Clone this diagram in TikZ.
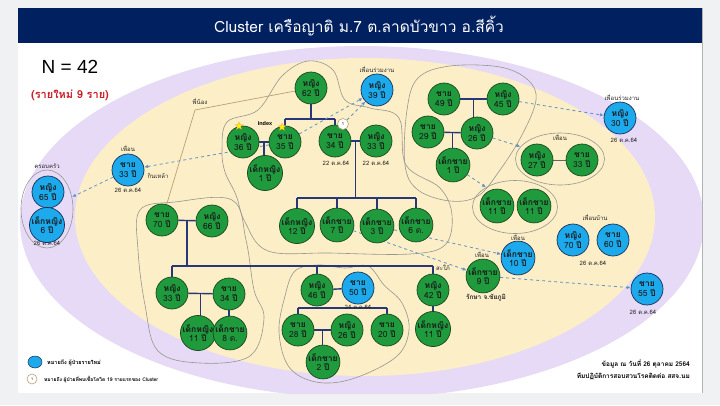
\documentclass[tikz,border=0pt]{standalone}
\usepackage{fontspec}
\setmainfont{Loma}[Script=Thai]
\newfontfamily\arialf{Liberation Sans}
\usetikzlibrary{shapes.geometric,arrows.meta,calc}
\definecolor{bggray}{RGB}{240,241,243}
\definecolor{navybar}{RGB}{0,32,96}
\definecolor{lav}{RGB}{230,218,247}
\definecolor{cream}{RGB}{252,238,198}
\definecolor{gfill}{RGB}{31,155,62}
\definecolor{gdraw}{RGB}{25,70,30}
\definecolor{bfill}{RGB}{28,170,236}
\definecolor{bdraw}{RGB}{25,45,85}
\definecolor{treec}{RGB}{40,55,120}
\definecolor{dashc}{RGB}{100,145,200}
\definecolor{outl}{RGB}{150,150,145}
\definecolor{tanc}{RGB}{185,160,120}
\definecolor{redt}{RGB}{200,30,40}
\pgfdeclarelayer{bg}
\pgfdeclarelayer{edges}
\pgfsetlayers{bg,edges,main}
\newcommand\agey[1]{#1 \textbf{ปี}}
\begin{document}
\begin{tikzpicture}[x=1pt,y=-1pt,
  person/.style={circle, minimum size=32pt, inner sep=0pt, align=center, font=\fontsize{8.5}{9.5}\selectfont, text=black!90, line width=0.7pt},
  gp/.style={person, fill=gfill, draw=gdraw},
  bp/.style={person, fill=bfill, draw=bdraw},
  treeline/.style={draw=treec, line width=1.4pt},
  contactarrow/.style={draw=dashc, dashed, line width=0.8pt, -{Latex[length=4pt,width=3.5pt]}},
  lbl/.style={font=\fontsize{6}{6.5}\selectfont, text=black!85, inner sep=0.5pt},
  clusterline/.style={draw=outl, line width=0.6pt},
  grpell/.style={ellipse, draw=outl, line width=0.6pt, inner sep=0pt},
  starmark/.style={star, star points=5, star point ratio=2.3, fill=yellow, draw=orange!70, line width=0.3pt, minimum size=8pt, inner sep=0pt}
]
\useasboundingbox (0,0) rectangle (720,405);
\begin{pgfonlayer}{bg}
\fill[bggray] (0,0) rectangle (720,405);
\fill[white] (18,8) rectangle (702,393);
\begin{scope}
\clip (18,43) rectangle (702,393);
\fill[lav] (362,222) ellipse [x radius=342pt, y radius=176pt];
\fill[cream] (365,217) ellipse [x radius=290pt, y radius=159pt];
\end{scope}
\fill[navybar] (18,8) rectangle (702,43);
\draw[gray!60] (702,8) -- (702,393);
% cluster outlines
\draw[clusterline] plot[smooth cycle, tension=0.6] coordinates {(222,150) (227,122) (258,110) (282,76) (308,61) (333,70) (345,100) (370,108) (399,118) (406,165) (440,188) (452,215) (445,245) (410,254) (330,253) (268,251) (245,222) (236,195) (225,172)};
\draw[clusterline] plot[smooth cycle, tension=0.6] coordinates {(418,78) (450,66) (500,67) (528,80) (536,100) (522,135) (500,170) (478,196) (450,201) (418,190) (405,165) (407,110)};
\draw[clusterline] plot[smooth cycle, tension=0.6] coordinates {(140,210) (175,202) (232,200) (246,240) (254,290) (264,318) (250,356) (200,363) (158,351) (145,305) (138,250)};
\draw[clusterline] plot[smooth cycle, tension=0.6] coordinates {(295,271) (318,265) (345,268) (368,266) (384,285) (402,303) (409,330) (396,357) (352,379) (316,382) (289,367) (279,332) (285,296)};
\end{pgfonlayer}

% title and headings
\node[font=\fontsize{15.5}{17}\selectfont, text=white] (title) at (359,26) {Cluster เครือญาติ ม.7 ต.ลาดบัวขาว อ.สีคิ้ว};
\node[font=\arialf\fontsize{19}{21}\selectfont] (ncount) at (70,67) {N = 42};
\node[font=\fontsize{11}{13}\selectfont\bfseries, text=redt] (newcount) at (70,95) {(รายใหม่ 9 ราย)};

% group ellipses
\node[grpell, minimum width=52pt, minimum height=78pt] (fam) at (47,209) {};
\node[grpell, minimum width=89pt, minimum height=52pt] (frE) at (560,159) {};
\node[grpell, minimum width=85pt, minimum height=53pt] (boyE) at (515,207) {};

% people
\node[gp] (W62) at (311,88) {\textbf{หญิง}\\\agey{62}};
\node[gp] (W36) at (243,142) {\textbf{หญิง}\\\agey{36}};
\node[gp] (M35) at (285,142) {\textbf{ชาย}\\\agey{35}};
\node[gp] (G1) at (265,173) {\textbf{เด็กหญิง}\\\agey{1}};
\node[gp] (M34) at (335,141) {\textbf{ชาย}\\\agey{34}};
\node[gp] (W33) at (376,141) {\textbf{หญิง}\\\agey{33}};
\node[bp] (W39) at (377,90) {\textbf{หญิง}\\\agey{39}};
\node[bp] (M33L) at (128,170) {\textbf{ชาย}\\\agey{33}};
\node[bp] (W65) at (48,192) {\textbf{หญิง}\\\agey{65}};
\node[bp] (G6) at (47,225) {\textbf{เด็กหญิง}\\\agey{6}};
\node[bp] (W30) at (620,118) {\textbf{หญิง}\\\agey{30}};
\node[gp] (M49) at (444,99) {\textbf{ชาย}\\\agey{49}};
\node[gp] (W45) at (503,99) {\textbf{หญิง}\\\agey{45}};
\node[gp] (M29) at (428,132) {\textbf{ชาย}\\\agey{29}};
\node[gp] (W26) at (477,133) {\textbf{หญิง}\\\agey{26}};
\node[gp] (B1) at (453,165) {\textbf{เด็กชาย}\\\agey{1}};
\node[gp] (W27) at (537,160) {\textbf{หญิง}\\\agey{27}};
\node[gp] (M33b) at (582,160) {\textbf{ชาย}\\\agey{33}};
\node[gp] (B11a) at (497,206) {\textbf{เด็กชาย}\\\agey{11}};
\node[gp] (B11b) at (534,206) {\textbf{เด็กชาย}\\\agey{11}};
\node[bp] (W70) at (573,240) {\textbf{หญิง}\\\agey{70}};
\node[bp] (M60) at (613,240) {\textbf{ชาย}\\\agey{60}};
\node[bp] (B10) at (518,258) {\textbf{เด็กชาย}\\\agey{10}};
\node[gp] (B9) at (483,276) {\textbf{เด็กชาย}\\\agey{9}};
\node[bp] (M55) at (647,289) {\textbf{ชาย}\\\agey{55}};
\node[gp] (G12) at (297,226) {\textbf{เด็กหญิง}\\\agey{12}};
\node[gp] (B7) at (337,225) {\textbf{เด็กชาย}\\\agey{7}};
\node[gp] (B3) at (377,226) {\textbf{เด็กชาย}\\\agey{3}};
\node[gp] (B6m) at (416,225) {\textbf{เด็กชาย}\\6 ด.};
\node[gp] (M70) at (162,220) {\textbf{ชาย}\\\agey{70}};
\node[gp] (W66) at (212,221) {\textbf{หญิง}\\\agey{66}};
\node[gp] (W33b) at (172,293) {\textbf{หญิง}\\\agey{33}};
\node[gp] (M34b) at (229,294) {\textbf{ชาย}\\\agey{34}};
\node[gp] (G11) at (198,333) {\textbf{เด็กหญิง}\\\agey{11}};
\node[gp] (B8m) at (230,333) {\textbf{เด็กชาย}\\8 ด.};
\node[gp] (W46) at (317,290) {\textbf{หญิง}\\\agey{46}};
\node[bp] (M50) at (358,288) {\textbf{ชาย}\\\agey{50}};
\node[gp] (M28) at (298,330) {\textbf{ชาย}\\\agey{28}};
\node[gp] (W26b) at (347,330) {\textbf{หญิง}\\\agey{26}};
\node[gp] (M20) at (387,330) {\textbf{ชาย}\\\agey{20}};
\node[gp] (B2) at (323,362) {\textbf{เด็กชาย}\\\agey{2}};
\node[gp] (W42) at (433,290) {\textbf{หญิง}\\\agey{42}};
\node[gp] (G11b) at (433,329) {\textbf{เด็กหญิง}\\\agey{11}};

% markers
\node[starmark] (st1) at (239,126) {};
\node[starmark] (st2) at (282,127) {};
\node[circle, draw=tanc, fill=white, line width=0.6pt, minimum size=11pt, inner sep=0pt, font=\fontsize{4}{4}\selectfont] (one) at (343,124) {1};
\node[font=\arialf\fontsize{5.5}{6}\selectfont\bfseries, inner sep=0.5pt] (idx) at (265,124) {Index};

% labels
\node[lbl] (lb1) at (377,69) {เพื่อนร่วมงาน};
\node[lbl] (lb2) at (622,97) {เพื่อนร่วมงาน};
\node[lbl] (lb3) at (128,148) {เพื่อน};
\node[lbl] (lb4) at (560,137) {เพื่อน};
\node[lbl] (lb5) at (518,237) {เพื่อน};
\node[lbl] (lb6) at (482,254) {เพื่อน};
\node[lbl] (lb7) at (47,166) {ครอบครัว};
\node[lbl] (lb8) at (158,176) {กินเหล้า};
\node[lbl] (lb9) at (595,217) {เพื่อนบ้าน};
\node[lbl] (lb10) at (443,268) {สะใภ้};
\node[lbl] (lb11) at (200,101) {พี่น้อง};
\node[lbl, font=\fontsize{6.5}{7}\selectfont\bfseries] (lb12) at (486,298) {รักษา จ.ชัยภูมิ};
\node[lbl] (d1) at (128,190) {26 ต.ค.64};
\node[lbl] (d2) at (47,243) {26 ต.ค.64};
\node[lbl] (d3) at (624,140) {26 ต.ค.64};
\node[lbl] (d4) at (593,263) {26 ต.ค.64};
\node[lbl] (d5) at (643,312) {26 ต.ค.64};
\node[lbl] (d6) at (336,163) {22 ต.ค.64};
\node[lbl] (d7) at (376,163) {22 ต.ค.64};
\node[lbl] (d8) at (358,307) {24 ต.ค.64};

% legend and source
\node[ellipse, fill=bfill, draw=bdraw, line width=0.5pt, minimum width=14pt, minimum height=12pt, inner sep=0pt] (legB) at (35,362) {};
\node[anchor=west, font=\fontsize{5.5}{6}\selectfont\bfseries, inner sep=0pt] (legBt) at (47,363) {หมายถึง ผู้ป่วยรายใหม่};
\node[circle, draw=tanc, fill=white, line width=0.6pt, minimum size=10pt, inner sep=0pt, font=\fontsize{3.5}{4}\selectfont] (legO) at (32,379) {1};
\node[anchor=west, font=\fontsize{5}{6}\selectfont\bfseries, inner sep=0pt] (legOt) at (44,379) {หมายถึง ผู้ป่วยที่พบเชื้อโควิด 19 รายแรกของ Cluster};
\node[anchor=east, font=\fontsize{6.5}{7}\selectfont\bfseries, inner sep=0pt] (src1) at (690,364) {ข้อมูล ณ วันที่ 26 ตุลาคม 2564};
\node[anchor=east, font=\fontsize{6.5}{7}\selectfont\bfseries, inner sep=0pt] (src2) at (690,376) {ทีมปฏิบัติการสอบสวนโรคติดต่อ สสจ.นม};

\begin{pgfonlayer}{edges}
% sibling line
\coordinate (sib) at (195,110);
\draw[tanc, line width=0.7pt] (W62) -- (sib) -- (M70);
% top family
\coordinate (j62) at (311,119);
\draw[treeline] (W62.center) -- (j62);
\draw[treeline] (M35.center |- j62) -- (M34.center |- j62);
\draw[treeline] (M35.center |- j62) -- (M35.center);
\draw[treeline] (M34.center |- j62) -- (M34.center);
\draw[treeline] (W36) -- (M35);
\coordinate (c1) at ($(W36.center)!0.5!(M35.center)$);
\draw[treeline] (c1) -- (c1 |- G1.center);
\draw[treeline] (M34) -- (W33);
\coordinate (c2) at ($(M34.center)!0.5!(W33.center)$);
\coordinate (barA) at (355,198);
\draw[treeline] (c2) -- (c2 |- barA);
\draw[treeline] (G12.center |- barA) -- (B6m.center |- barA);
\foreach \k in {G12,B7,B3,B6m} \draw[treeline] (\k.center |- barA) -- (\k.center);
% left family
\draw[treeline] (M70) -- (W66);
\coordinate (c3) at ($(M70.center)!0.5!(W66.center)$);
\coordinate (barB) at (187,266);
\draw[treeline] (c3) -- (c3 |- barB);
\draw[treeline] (W33b.center |- barB) -- (W42.center |- barB);
\foreach \k in {W33b,W46,W42} \draw[treeline] (\k.center |- barB) -- (\k.center);
\draw[treeline] (W33b) -- (M34b);
\coordinate (c4) at ($(W33b.center)!0.5!(M34b.center)$);
\draw[treeline] (c4) -- (c4 |- G11.center);
\draw[treeline] (M34b.center) -- (M34b.center |- B8m.center);
\draw[treeline] (W42.center) -- (G11b.center);
% bottom middle family
\draw[treeline] (W46) -- (M50);
\coordinate (barC) at (317,308);
\draw[treeline] (M28.center |- barC) -- (M20.center |- barC);
\foreach \k in {M28,M20} \draw[treeline] (\k.center |- barC) -- (\k.center);
\draw[treeline] (M28) -- (W26b);
\coordinate (c5) at ($(M28.center)!0.5!(W26b.center)$);
\draw[treeline] (c5) -- (c5 |- B2.center);
% right family
\draw[treeline] (M49) -- (W45);
\coordinate (c6) at ($(M49.center)!0.5!(W45.center)$);
\draw[treeline] (c6) -- (c6 |- W26.center);
\draw[treeline] (M29) -- (W26);
\coordinate (c7) at ($(M29.center)!0.5!(W26.center)$);
\draw[treeline] (c7) -- (c7 |- B1.center);
\draw[black!60, line width=1pt] (W27) -- (M33b);
% contacts
\draw[contactarrow] (M35) -- (M33L);
\draw[contactarrow] (M33L) -- (fam);
\draw[contactarrow] (M35) -- (W39);
\draw[contactarrow] (one) -- (W39);
\draw[contactarrow] (W45) -- (W30);
\draw[contactarrow] (W26) -- (frE);
\draw[contactarrow] (B1) -- (boyE);
\draw[contactarrow] (B7) -- (B9);
\draw[contactarrow] (B3) -- (B10);
\draw[contactarrow] (B9) -- (M55);
\end{pgfonlayer}
\end{tikzpicture}
\end{document}
